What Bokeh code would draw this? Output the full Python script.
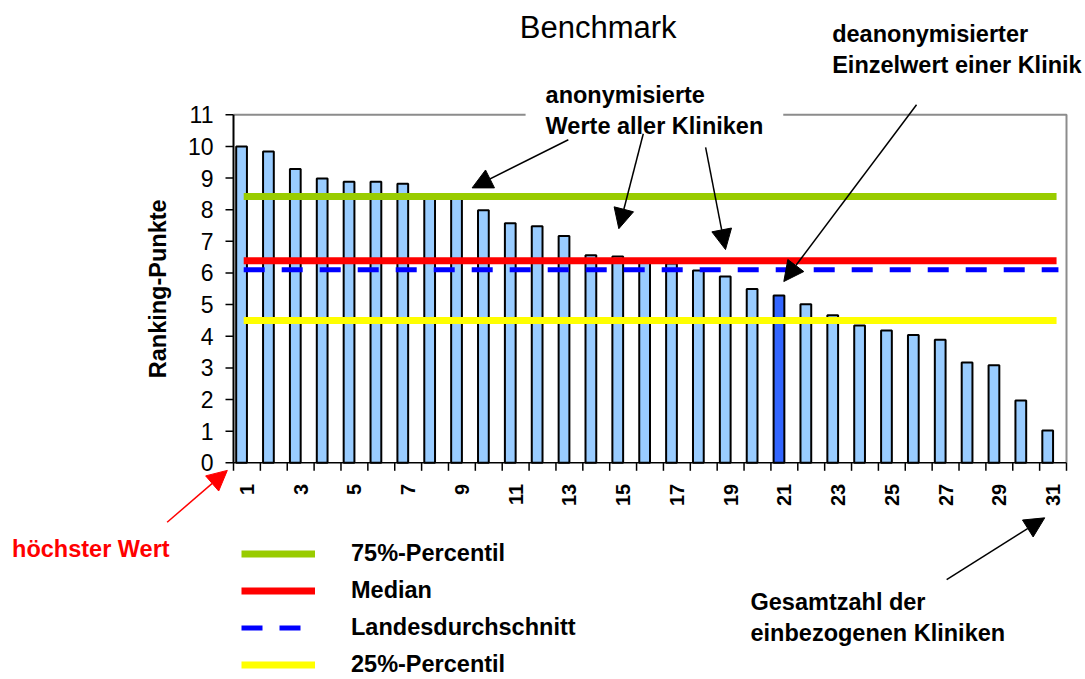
from math import pi
from bokeh.plotting import figure
from bokeh.models import (Range1d, Label, Arrow, NormalHead,
                          Legend, LegendItem, ColumnDataSource)
from bokeh.core.properties import value
from bokeh.transform import dodge
from bokeh.embed import file_html
from bokeh.resources import INLINE

# ---------------- data ----------------
clinics = [1, 2, 3, 4, 5, 6, 7, 8, 9, 10, 11, 12, 13, 14, 15, 16,
           17, 18, 19, 20, 21, 22, 23, 24, 25, 26, 27, 28, 29, 30, 31]
ranking_points = [10.0, 9.84, 9.29, 8.99, 8.88, 8.88, 8.82, 8.45, 8.40, 7.98,
                  7.57, 7.48, 7.17, 6.56, 6.52, 6.40, 6.30, 6.08, 5.89, 5.49,
                  5.29, 5.01, 4.66, 4.34, 4.18, 4.04, 3.89, 3.17, 3.08, 1.97, 1.02]
highlight_clinic = 21
x_tick_labels = [1, 3, 5, 7, 9, 11, 13, 15, 17, 19, 21, 23, 25, 27, 29, 31]
y_ticks = [0, 1, 2, 3, 4, 5, 6, 7, 8, 9, 10, 11]

percentile_75 = 8.42
median_value = 6.39
state_average = 6.10
percentile_25 = 4.50

# ---------------- layout / style ----------------
FONT = "Liberation Sans"
BAR_LIGHT = "#99CCFF"
BAR_DARK = "#3366FF"
W, H = 1085, 679
# pixel geometry of the plotting area inside the canvas
AX_LEFT, AX_RIGHT, AX_TOP, AX_BOTTOM = 233.0, 1066.0, 114.3, 462.3

x_lo = clinics[0] - 0.5
x_hi = clinics[-1] + 0.5
y_lo = y_ticks[0]
y_hi = y_ticks[-1]
px_per_x = (AX_RIGHT - AX_LEFT) / (x_hi - x_lo)
px_per_y = (AX_BOTTOM - AX_TOP) / (y_hi - y_lo)
x_range = Range1d(x_lo - AX_LEFT / px_per_x, x_hi + (W - AX_RIGHT) / px_per_x)
y_range = Range1d(y_lo - (H - AX_BOTTOM) / px_per_y, y_hi + AX_TOP / px_per_y)

colors = [BAR_DARK if c == highlight_clinic else BAR_LIGHT for c in clinics]
src = ColumnDataSource(dict(clinic=clinics, points=ranking_points, color=colors))

p = figure(width=W, height=H, x_range=x_range, y_range=y_range,
           output_backend="svg", toolbar_location=None,
           x_axis_location=None, y_axis_location=None,
           min_border=0, min_border_left=0, min_border_right=0,
           min_border_top=0, min_border_bottom=0)
p.grid.visible = False
p.outline_line_color = None
p.background_fill_color = "white"
p.border_fill_color = "white"

# plot-area border (grey top/right)
p.line([x_lo, x_hi, x_hi], [y_hi, y_hi, y_lo], line_color="#8C8C8C", line_width=2)

# bars
p.vbar(x=dodge("clinic", -0.2, range=p.x_range), top="points", width=0.4,
       fill_color="color", line_color="black", line_width=2, source=src)

# reference lines
line_x = [0.88, 31.13]
r75 = p.line(line_x, [percentile_75] * 2, line_color="#99CC00", line_width=7)
rmed = p.line(line_x, [median_value] * 2, line_color="#FF0000", line_width=7)
ravg = p.line([0.88, 31.2], [state_average] * 2, line_color="#0000FF",
              line_width=5, line_dash="21 17")
r25 = p.line(line_x, [percentile_25] * 2, line_color="#FFFF00", line_width=7)

# ---- y axis ----
p.line([x_lo, x_lo], [y_lo, y_hi], line_color="black", line_width=2)
p.ray(x=[x_lo] * len(y_ticks), y=y_ticks, length=8, length_units="screen",
      angle=pi, line_color="black", line_width=1.5)
p.text(x=[x_lo] * len(y_ticks), y=y_ticks, text=[str(t) for t in y_ticks],
       x_offset=-20, text_align="right", text_baseline="middle",
       text_font=value(FONT), text_font_size="23px", text_color="black")
p.text(x=[x_lo], y=[(y_lo + y_hi) / 2], text=["Ranking-Punkte"], angle=pi / 2,
       x_offset=-75.5, text_align="center", text_baseline="middle",
       text_font=value(FONT), text_font_size="23.5px", text_font_style="bold",
       text_color="black")

# ---- x axis ----
boundaries = [c - 0.5 for c in clinics] + [clinics[-1] + 0.5]
p.line([x_lo, x_hi], [y_lo, y_lo], line_color="black", line_width=1.5)
p.ray(x=boundaries, y=[y_lo] * len(boundaries), length=8, length_units="screen",
      angle=-pi / 2, line_color="black", line_width=1.5)
p.text(x=x_tick_labels, y=[y_lo] * len(x_tick_labels),
       text=[str(t) for t in x_tick_labels], angle=pi / 2, y_offset=21,
       text_align="right", text_baseline="middle",
       text_font=value(FONT), text_font_size="20px", text_font_style="bold",
       text_color="black")

# legend
legend = Legend(items=[LegendItem(label="75%-Percentil", renderers=[r75]),
                       LegendItem(label="Median", renderers=[rmed]),
                       LegendItem(label="Landesdurchschnitt", renderers=[ravg]),
                       LegendItem(label="25%-Percentil", renderers=[r25])],
                location=(241, -4), orientation="vertical",
                glyph_width=74, glyph_height=37, label_height=37,
                label_standoff=36, spacing=0, padding=0, margin=0,
                border_line_color=None, background_fill_alpha=0,
                label_text_font=FONT, label_text_font_size="23.5px",
                label_text_font_style="bold", label_text_color="black")
p.add_layout(legend)

# title and annotations
p.add_layout(Label(x=14.07, y=13.77, text="Benchmark", text_font=FONT,
                   text_font_size="31px", text_align="center",
                   text_baseline="middle", text_color="black"))

p.add_layout(Label(x=11.37, y=11.13, text="anonymisierte\nWerte aller Kliniken",
                   text_font=FONT, text_font_size="23.5px", text_font_style="bold",
                   text_align="left", text_baseline="middle", text_color="black",
                   background_fill_color="white", padding=20))

p.add_layout(Label(x=22.78, y=13.06, text="deanonymisierter\nEinzelwert einer Klinik",
                   text_font=FONT, text_font_size="23.5px", text_font_style="bold",
                   text_align="left", text_baseline="middle", text_color="black"))

p.add_layout(Label(x=-7.74, y=-2.71, text="höchster Wert",
                   text_font=FONT, text_font_size="23.5px", text_font_style="bold",
                   text_align="left", text_baseline="middle", text_color="#FF0000"))

p.add_layout(Label(x=19.74, y=-4.89, text="Gesamtzahl der\neinbezogenen Kliniken",
                   text_font=FONT, text_font_size="23.5px", text_font_style="bold",
                   text_align="left", text_baseline="middle", text_color="black"))


def arrow(x0, y0, x1, y1, color="black"):
    p.add_layout(Arrow(x_start=x0, y_start=y0, x_end=x1, y_end=y1,
                       line_color=color, line_width=1.5,
                       end=NormalHead(size=20, fill_color=color, line_color=color)))


arrow(12.96, 10.21, 9.38, 8.69)
arrow(15.75, 10.40, 14.84, 7.40)
arrow(18.07, 9.97, 18.81, 6.74)
arrow(25.92, 11.32, 20.98, 5.73)
arrow(-1.97, -1.88, 0.27, -0.24, color="#FF0000")
arrow(27.04, -3.69, 30.69, -1.74)

open("out.html", "w").write(file_html(p, INLINE))
